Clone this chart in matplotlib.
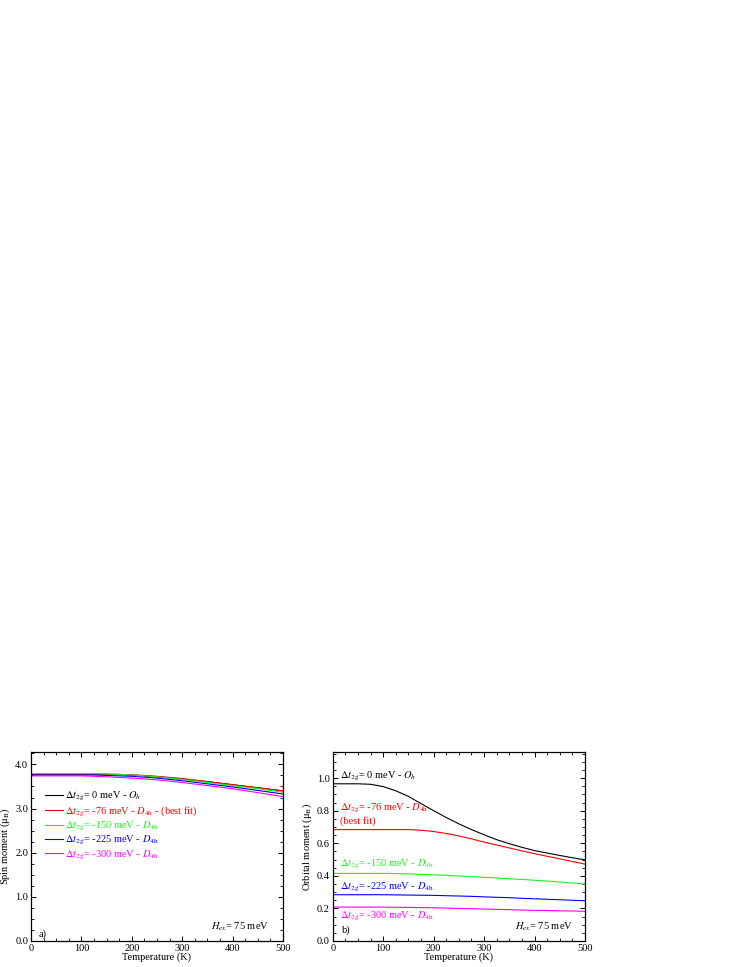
import matplotlib
matplotlib.use("Agg")
import matplotlib.pyplot as plt
from matplotlib.ticker import MultipleLocator, FormatStrFormatter

plt.rcParams['font.family'] = ['Liberation Serif', 'DejaVu Serif']
plt.rcParams['mathtext.fontset'] = 'stix'
plt.rcParams['font.size'] = 7.5

# temperature grid (K)
temp = [0, 25, 50, 75, 100, 125, 150, 175, 200, 225, 250,
        275, 300, 325, 350, 375, 400, 425, 450, 475, 500]

# spin moment (mu_B), read off panel a)
spin_0 = [3.77, 3.77, 3.77, 3.77, 3.77, 3.77, 3.77, 3.77, 3.76, 3.74, 3.72,
          3.695, 3.67, 3.64, 3.61, 3.575, 3.54, 3.505, 3.47, 3.435, 3.40]
spin_76 = [3.78, 3.78, 3.78, 3.78, 3.78, 3.78, 3.78, 3.775, 3.765, 3.75, 3.73,
           3.705, 3.68, 3.645, 3.61, 3.575, 3.54, 3.505, 3.47, 3.435, 3.40]
spin_150 = [3.79, 3.79, 3.79, 3.79, 3.79, 3.79, 3.78, 3.775, 3.76, 3.74, 3.72,
            3.69, 3.66, 3.625, 3.59, 3.555, 3.52, 3.485, 3.45, 3.41, 3.37]
spin_225 = [3.76, 3.76, 3.76, 3.76, 3.76, 3.76, 3.75, 3.74, 3.73, 3.71, 3.69,
            3.66, 3.63, 3.595, 3.56, 3.525, 3.49, 3.45, 3.41, 3.37, 3.33]
spin_300 = [3.74, 3.74, 3.74, 3.74, 3.74, 3.73, 3.72, 3.705, 3.69, 3.67, 3.65,
            3.62, 3.59, 3.555, 3.52, 3.485, 3.45, 3.405, 3.36, 3.315, 3.27]

# orbital moment (mu_B), read off panel b)
orb_0 = [0.965, 0.965, 0.965, 0.962, 0.948, 0.922, 0.888, 0.843, 0.800, 0.758, 0.719,
         0.684, 0.652, 0.622, 0.597, 0.575, 0.555, 0.540, 0.525, 0.511, 0.498]
orb_76 = [0.684, 0.684, 0.684, 0.684, 0.684, 0.684, 0.684, 0.680, 0.672, 0.660, 0.645,
          0.627, 0.607, 0.589, 0.571, 0.553, 0.536, 0.520, 0.504, 0.488, 0.472]
orb_150 = [0.415, 0.415, 0.415, 0.415, 0.415, 0.414, 0.412, 0.409, 0.406, 0.403, 0.399,
           0.395, 0.391, 0.387, 0.382, 0.378, 0.373, 0.368, 0.362, 0.356, 0.350]
orb_225 = [0.284, 0.284, 0.284, 0.284, 0.284, 0.283, 0.282, 0.281, 0.280, 0.278, 0.276,
           0.274, 0.271, 0.268, 0.266, 0.262, 0.259, 0.256, 0.253, 0.250, 0.247]
orb_300 = [0.208, 0.208, 0.208, 0.208, 0.208, 0.207, 0.206, 0.205, 0.204, 0.202, 0.200,
           0.198, 0.196, 0.194, 0.192, 0.190, 0.188, 0.187, 0.185, 0.184, 0.182]

colors = ['black', '#ff0000', '#22ee22', '#0000ff', '#ff00ff']
labels = [r"$\Delta t_{\rm 2g}$= 0 meV - $O_h$",
          r"$\Delta t_{\rm 2g}$= -76 meV - $D_{\rm 4h}$ - (best fit)",
          r"$\Delta t_{\rm 2g}$= -150 meV - $D_{\rm 4h}$",
          r"$\Delta t_{\rm 2g}$= -225 meV - $D_{\rm 4h}$",
          r"$\Delta t_{\rm 2g}$= -300 meV - $D_{\rm 4h}$"]
labels_b = [r"$\Delta t_{\rm 2g}$= 0 meV - $O_h$",
            r"$\Delta t_{\rm 2g}$= -76 meV - $D_{\rm 4h}$",
            r"$\Delta t_{\rm 2g}$= -150 meV - $D_{\rm 4h}$",
            r"$\Delta t_{\rm 2g}$= -225 meV - $D_{\rm 4h}$",
            r"$\Delta t_{\rm 2g}$= -300 meV - $D_{\rm 4h}$"]
label_y_b = [1.01, 0.816, 0.470, 0.330, 0.150]

fig = plt.figure(figsize=(7.47, 9.67), dpi=100)
ax1 = fig.add_axes([0.0415, 0.0269, 0.3373, 0.1954])
ax2 = fig.add_axes([0.4454, 0.0269, 0.3378, 0.1954])

spins = [spin_0, spin_76, spin_150, spin_225, spin_300]
orbs = [orb_0, orb_76, orb_150, orb_225, orb_300]

for s, c, lab in zip(spins, colors, labels):
    ax1.plot(temp, s, color=c, lw=0.8, label=lab)
for o, c in zip(orbs, colors):
    ax2.plot(temp, o, color=c, lw=0.8)

ax1.legend(loc='upper left', bbox_to_anchor=(0.055, 0.80), frameon=False,
           handlelength=1.7, handletextpad=0.25, labelspacing=0.13,
           borderpad=0, borderaxespad=0, labelcolor='linecolor', fontsize=7.5)

for lab, c, y in zip(labels_b, colors, label_y_b):
    ax2.text(15, y, lab, color=c, va='center', ha='left', fontsize=7.5)
ax2.text(15, 0.735, "(best fit)", color=colors[1], va='center', ha='left',
         fontsize=7.5)

ax1.text(16, 0.16, "a)", va='center', ha='left')
ax2.text(18, 0.065, "b)", va='center', ha='left')
ax1.text(472, 0.32, r"$H_{ex}$= 75 meV", va='center', ha='right')
ax2.text(476, 0.087, r"$H_{ex}$= 75 meV", va='center', ha='right')

ax1.set_xlim(0, 500)
ax1.set_ylim(0, 4.28)
ax2.set_xlim(0, 500)
ax2.set_ylim(0, 1.16)

ax1.xaxis.set_major_locator(MultipleLocator(100))
ax1.xaxis.set_minor_locator(MultipleLocator(25))
ax1.yaxis.set_major_locator(MultipleLocator(1.0))
ax1.yaxis.set_minor_locator(MultipleLocator(0.25))
ax1.yaxis.set_major_formatter(FormatStrFormatter('%.1f'))
ax2.xaxis.set_major_locator(MultipleLocator(100))
ax2.xaxis.set_minor_locator(MultipleLocator(25))
ax2.yaxis.set_major_locator(MultipleLocator(0.2))
ax2.yaxis.set_minor_locator(MultipleLocator(0.05))
ax2.yaxis.set_major_formatter(FormatStrFormatter('%.1f'))

for ax in (ax1, ax2):
    ax.tick_params(which='both', direction='in', top=True, right=True,
                   labelsize=7.5, pad=2)
    ax.tick_params(which='major', length=3.5, width=0.7)
    ax.tick_params(which='minor', length=2, width=0.6)
    for sp in ax.spines.values():
        sp.set_linewidth(0.9)
    ax.set_xlabel("Temperature (K)", labelpad=0)

ax1.set_ylabel(r"Spin moment (μ$_{\rm B}$)", labelpad=2)
ax2.set_ylabel(r"Orbital moment (μ$_{\rm B}$)", labelpad=2)

fig.savefig("out.png", dpi=100)
